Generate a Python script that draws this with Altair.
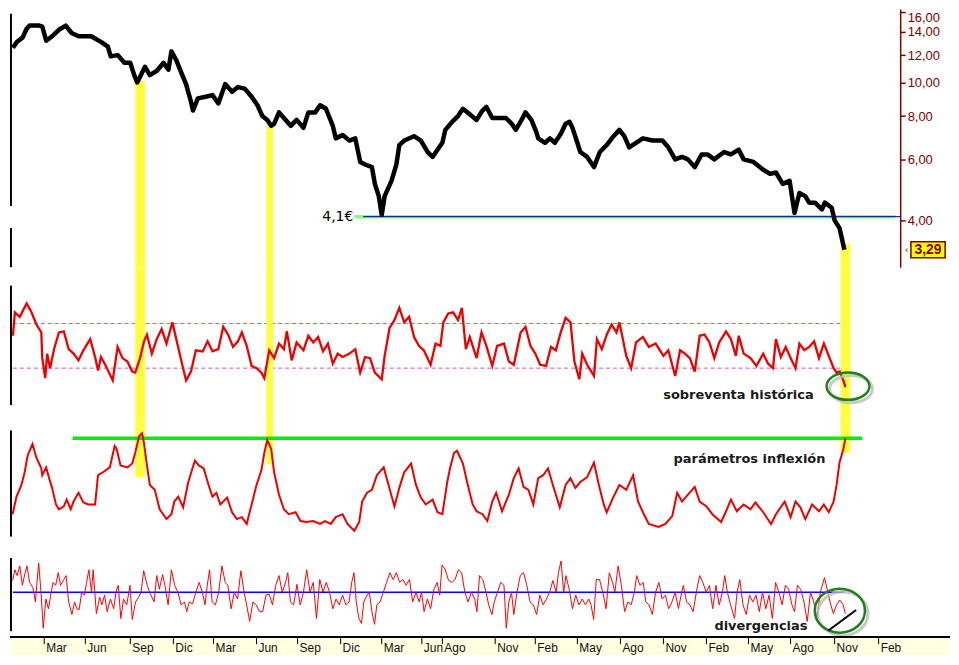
import altair as alt
import pandas as pd

# ---------------- data (x = weeks from the left edge of the chart) ----------------
price_week = [0.9, 2.1, 3.9, 5.1, 6.0, 9.0, 9.9, 11.1, 12.9, 15.0,
              17.1, 18.9, 21.0, 24.9, 26.1, 27.9, 30.0, 30.9, 33.0, 35.1,
              36.9, 38.1, 39.0, 39.9, 41.4, 42.9, 45.0, 47.1, 48.6, 49.5,
              51.0, 52.5, 54.0, 55.5, 56.1, 57.6, 60.0, 62.1, 63.9, 66.0,
              68.1, 69.9, 72.0, 74.1, 75.9, 77.4, 78.9, 80.1, 81.0, 82.5,
              84.0, 86.1, 87.9, 90.0, 91.5, 93.6, 95.1, 96.9, 99.0, 99.9,
              102.0, 104.1, 105.9, 107.4, 108.9, 111.0, 111.9, 113.1, 114.0, 114.9,
              117.0, 118.5, 119.4, 120.9, 123.9, 126.0, 128.1, 129.6, 131.1, 132.6,
              133.5, 135.6, 137.4, 138.9, 141.0, 143.1, 144.9, 146.1, 147.9, 150.0,
              152.1, 153.9, 155.1, 156.9, 158.1, 159.9, 161.4, 162.0, 164.1, 165.6,
              167.1, 168.9, 170.4, 171.6, 172.5, 174.0, 174.9, 177.0, 179.1, 180.9,
              183.0, 185.1, 186.9, 188.4, 189.9, 192.0, 194.1, 197.1, 200.1, 201.9,
              204.0, 206.1, 207.9, 210.0, 212.1, 213.9, 216.0, 219.0, 221.1, 223.5,
              225.0, 228.0, 231.0, 233.1, 234.9, 237.0, 239.1, 240.6, 242.1, 243.9,
              245.1, 246.9, 249.0, 249.9, 252.0, 252.9, 254.4, 255.9]
price_value = [12.6, 13.1, 13.5, 14.3, 14.6, 14.6, 14.5, 13.2, 13.6, 14.2,
               14.6, 13.9, 13.6, 13.6, 13.4, 13.1, 12.7, 11.9, 12.0, 11.4,
               11.4, 10.5, 10.0, 10.4, 11.1, 10.5, 10.8, 11.4, 10.9, 12.3,
               11.6, 10.7, 9.9, 8.8, 8.3, 9.0, 9.1, 9.2, 8.7, 9.9,
               9.4, 9.7, 9.6, 9.1, 8.6, 8.0, 7.8, 7.5, 7.6, 8.2,
               7.9, 7.5, 7.8, 7.4, 8.2, 8.2, 8.6, 8.4, 7.5, 6.9,
               7.05, 6.8, 6.9, 5.9, 5.8, 5.7, 5.1, 4.7, 4.15, 4.7,
               5.2, 5.8, 6.6, 6.8, 7.0, 6.8, 6.3, 6.1, 6.4, 6.7,
               7.3, 7.7, 8.0, 8.4, 8.1, 7.8, 8.3, 8.5, 7.9, 7.9,
               7.9, 7.6, 7.3, 7.8, 8.2, 7.8, 7.2, 6.9, 6.7, 6.9,
               6.7, 7.1, 7.6, 7.7, 7.4, 6.7, 6.3, 6.1, 5.7, 6.3,
               6.6, 7.0, 7.3, 7.0, 6.5, 6.7, 6.9, 6.8, 6.8, 6.5,
               6.0, 6.1, 6.0, 5.7, 6.2, 6.2, 6.0, 6.3, 6.2, 6.4,
               6.0, 5.9, 5.6, 5.45, 5.5, 5.1, 5.2, 4.2, 4.8, 4.7,
               4.5, 4.5, 4.3, 4.5, 4.35, 4.0, 3.8, 3.29]

sob_week = [0.9, 1.5, 3.0, 5.1, 6.6, 8.1, 9.6, 9.9, 10.8, 11.4,
            12.3, 13.5, 15.0, 16.5, 18.0, 19.5, 21.0, 22.5, 24.6, 26.1,
            27.0, 27.9, 29.4, 31.5, 33.0, 34.5, 36.0, 37.5, 38.4, 39.9,
            41.1, 42.0, 43.5, 45.0, 46.5, 48.0, 49.8, 51.0, 52.5, 54.0,
            55.5, 57.0, 59.1, 60.6, 62.1, 63.9, 65.4, 66.9, 68.4, 69.9,
            71.1, 72.6, 74.1, 75.6, 77.1, 78.0, 79.5, 81.0, 82.5, 84.0,
            84.9, 86.4, 87.9, 90.0, 91.5, 93.0, 94.5, 96.0, 97.5, 99.0,
            100.5, 102.0, 104.1, 105.9, 107.4, 108.9, 110.4, 111.9, 114.0, 114.9,
            116.4, 117.9, 119.4, 120.9, 122.4, 123.9, 125.4, 126.9, 129.0, 130.5,
            132.0, 132.9, 134.4, 135.9, 137.4, 138.6, 139.8, 141.0, 143.1, 144.6,
            146.1, 147.9, 149.4, 151.5, 153.0, 154.5, 156.6, 158.1, 159.6, 161.1,
            162.6, 164.4, 165.9, 167.4, 168.9, 170.4, 171.9, 173.1, 174.6, 175.5,
            177.0, 179.1, 180.0, 181.5, 183.0, 184.5, 186.0, 186.9, 189.0, 190.5,
            192.0, 194.1, 195.9, 198.0, 200.4, 201.9, 204.0, 205.5, 207.0, 208.5,
            210.0, 211.5, 213.0, 214.5, 216.0, 217.5, 219.6, 221.1, 222.6, 223.5,
            225.0, 227.1, 228.9, 231.0, 232.5, 234.0, 234.9, 236.4, 237.9, 239.4,
            240.9, 242.1, 243.6, 245.1, 246.6, 248.1, 249.6, 251.1, 252.6, 253.5,
            254.4, 255.6, 256.2]
sob_value = [59, 80, 76, 88, 80, 69, 62, 39, 21, 43,
             30, 47, 62, 63, 47, 43, 37, 46, 56, 40,
             28, 40, 32, 19, 49, 39, 36, 27, 26, 39,
             54, 60, 43, 56, 65, 52, 71, 56, 37, 19,
             27, 46, 45, 54, 45, 47, 67, 60, 49, 54,
             62, 50, 32, 30, 26, 21, 46, 39, 52, 47,
             63, 37, 53, 46, 59, 53, 58, 45, 52, 34,
             43, 40, 43, 47, 26, 40, 39, 26, 20, 41,
             66, 73, 84, 71, 76, 58, 50, 46, 33, 52,
             50, 71, 79, 80, 73, 84, 47, 58, 39, 62,
             50, 32, 50, 52, 36, 33, 62, 67, 50, 43,
             33, 32, 49, 46, 62, 75, 71, 36, 20, 43,
             33, 23, 56, 47, 60, 69, 62, 71, 41, 30,
             53, 58, 49, 52, 41, 46, 23, 46, 43, 39,
             27, 59, 60, 53, 39, 53, 63, 56, 41, 59,
             43, 39, 32, 43, 34, 30, 56, 40, 49, 39,
             30, 52, 46, 49, 54, 39, 52, 41, 30, 26,
             27, 19, 13]

inf_week = [0.8, 2.0, 3.5, 4.5, 5.4, 6.9, 8.1, 9.6, 9.9, 11.1,
            12.0, 12.9, 14.1, 15.0, 16.5, 17.4, 18.6, 19.5, 21.0, 22.5,
            24.0, 26.1, 27.0, 28.5, 30.6, 32.1, 32.7, 33.9, 36.0, 37.5,
            38.4, 39.6, 40.5, 41.1, 42.0, 42.9, 44.4, 45.9, 48.0, 49.5,
            50.4, 51.6, 53.1, 54.6, 55.5, 56.7, 57.9, 59.4, 60.9, 62.1,
            63.3, 64.5, 66.6, 68.1, 69.6, 71.1, 72.6, 74.1, 75.6, 77.1,
            78.0, 78.9, 80.1, 81.0, 82.5, 84.0, 85.5, 87.6, 89.1, 90.9,
            93.0, 95.1, 96.6, 98.4, 99.9, 102.0, 103.5, 105.6, 107.1, 108.0,
            109.5, 111.0, 112.5, 114.6, 116.1, 117.9, 119.4, 120.9, 123.0, 124.5,
            126.0, 127.5, 129.6, 131.1, 132.6, 134.1, 135.0, 136.2, 137.1, 138.9,
            140.4, 141.9, 143.1, 144.9, 146.4, 147.9, 149.1, 150.9, 153.0, 154.5,
            156.0, 157.5, 159.0, 160.5, 162.0, 163.5, 165.0, 166.5, 168.6, 170.4,
            171.9, 173.4, 174.9, 177.0, 179.1, 180.6, 182.1, 183.0, 185.1, 186.9,
            189.0, 191.1, 192.6, 194.4, 195.9, 198.9, 201.0, 203.1, 204.6, 206.1,
            207.9, 210.0, 211.5, 213.6, 215.4, 218.1, 219.6, 221.1, 222.9, 225.0,
            227.1, 228.6, 231.0, 233.4, 234.9, 237.6, 239.4, 240.9, 242.4, 243.9,
            246.0, 248.1, 249.6, 251.1, 252.6, 253.5, 254.4, 255.6, 256.2]
inf_value = [22, 40, 52, 65, 82, 94, 80, 69, 62, 70,
             59, 49, 32, 27, 30, 37, 27, 35, 44, 34,
             32, 32, 62, 65, 70, 92, 89, 72, 70, 74,
             85, 102, 105, 95, 72, 52, 47, 27, 17, 22,
             35, 40, 29, 54, 64, 77, 72, 69, 52, 40,
             44, 32, 39, 24, 17, 19, 12, 32, 52, 67,
             85, 98, 89, 65, 42, 27, 22, 24, 15, 14,
             15, 12, 15, 12, 19, 22, 12, 5, 14, 35,
             44, 47, 62, 70, 52, 30, 49, 65, 74, 52,
             39, 32, 37, 24, 22, 55, 70, 85, 87, 74,
             52, 32, 25, 22, 15, 35, 44, 25, 42, 59,
             69, 50, 47, 32, 59, 62, 69, 52, 29, 52,
             59, 49, 55, 60, 75, 52, 32, 24, 40, 52,
             47, 62, 35, 22, 12, 9, 12, 20, 44, 35,
             42, 50, 35, 30, 22, 14, 25, 37, 25, 32,
             27, 34, 24, 12, 22, 35, 19, 35, 29, 17,
             32, 25, 32, 24, 35, 52, 75, 89, 100]

div_week = [0.8, 1.5, 2.2, 3.0, 3.8, 4.5, 5.2, 6.0, 7.0, 7.8,
            8.2, 8.8, 9.5, 10.2, 11.0, 11.8, 12.5, 13.2, 14.0, 14.8,
            15.5, 16.5, 17.2, 18.0, 19.0, 19.8, 20.5, 21.2, 22.0, 22.8,
            23.5, 24.2, 25.0, 25.5, 26.5, 27.5, 28.2, 29.0, 29.8, 30.8,
            31.8, 32.5, 33.2, 34.0, 34.8, 35.8, 36.8, 37.5, 38.5, 39.5,
            40.2, 41.0, 42.0, 42.8, 43.5, 44.2, 45.0, 45.8, 46.8, 47.5,
            48.5, 49.5, 50.5, 51.5, 52.5, 53.5, 54.2, 55.0, 56.0, 57.0,
            58.0, 59.0, 59.8, 60.5, 61.2, 62.0, 63.0, 64.0, 65.0, 66.0,
            66.8, 67.8, 68.8, 69.8, 70.8, 71.8, 72.8, 73.5, 74.5, 75.5,
            76.5, 77.5, 78.5, 79.5, 80.5, 81.5, 82.5, 83.5, 84.5, 85.2,
            86.0, 87.0, 88.0, 89.0, 90.0, 91.0, 92.0, 93.0, 94.0, 95.0,
            96.0, 97.0, 98.0, 99.0, 100.0, 101.0, 102.0, 103.0, 104.0, 104.8,
            105.5, 106.2, 107.0, 107.8, 108.5, 109.5, 110.2, 111.0, 111.8, 112.5,
            113.5, 114.5, 115.5, 116.5, 117.5, 118.5, 119.5, 120.5, 121.5, 122.5,
            123.5, 124.5, 125.5, 126.2, 127.0, 128.0, 129.0, 130.0, 131.0, 131.8,
            132.5, 133.5, 134.5,
            135.5, 136.5, 137.5, 138.5, 139.5, 140.5, 141.5, 142.5, 143.2, 144.0,
            145.0, 146.0, 146.8, 147.8, 148.5, 149.5, 150.5, 151.5, 152.2, 153.0,
            153.8, 154.5, 155.5, 156.5, 157.5, 158.5, 159.5, 160.5, 161.5, 162.5,
            163.5, 164.5, 165.5, 166.5, 167.5, 168.2, 169.0, 169.8, 170.5, 171.5,
            172.5, 173.5, 174.5, 175.5, 176.5, 177.5, 178.2, 179.0, 179.8, 180.8,
            181.8, 182.8, 183.8, 184.8, 185.5, 186.5, 187.5, 188.5, 189.5, 190.5,
            191.5, 192.2, 193.2, 194.2, 195.0, 196.0, 197.0, 198.0, 199.0, 200.0,
            201.0, 202.0, 203.0, 204.0, 205.0, 206.0, 206.5, 207.5, 208.5, 209.5,
            210.5, 211.5, 212.5, 213.5, 214.5, 215.5, 216.5, 217.5, 218.5, 219.2,
            220.0, 221.0, 222.2, 223.0, 223.8, 224.8, 225.8, 226.8, 227.8, 228.8,
            229.8, 230.8, 231.8, 232.8, 233.8, 234.8, 235.8, 236.8, 237.8, 238.8,
            239.8, 240.6, 241.5, 242.5, 243.5, 244.5, 245.5, 246.5, 247.5, 248.5,
            249.8, 250.8, 251.5, 252.5, 253.5, 254.5, 255.5, 256.2]
div_value = [12, 23, 17, 27, 7, 18, 27, 10, 5, -10,
             7, 30, 0, -37, -7, -17, -3, 10, 7, 20,
             7, 13, 17, -10, -23, -10, -17, -18, 0, -3,
             10, 23, 0, 23, -22, -5, -13, -3, -20, -7,
             -17, 0, 7, -27, -7, -13, 7, -28, -10, -5,
             0, 22, 8, 0, -5, -10, 17, 3, 18, 7,
             -13, 23, 7, 0, -13, -10, -20, -10, -12, 0,
             10, 0, -13, 7, 23, -10, -13, 0, 27, 10,
             7, -17, 0, -7, 22, 0, -17, -30, -10, -13,
             -20, -20, -3, -2, -13, 7, 17, 0, 10, 20,
             -10, -13, 8, -13, 0, 23, 0, 10, -27, 13,
             0, 10, 0, -17, -7, -13, -3, -13, -10, 10,
             20, -10, -27, -32, -10, -3, 0, -20, -33, -13,
             -10, 0, 10, 20, 13, 20, 10, 13, 7, 13,
             -10, 0, -10, 0, -20, -7, -17, 3, 10, -3,
             28, 23, 12,
             10, 13, 23, 20, 0, -10, 0, -7, -20, 17,
             13, 0, -13, -23, -10, 0, 10, 7, -37, -10,
             0, -23, 0, 17, 20, 7, -10, -13, -23, -3,
             -13, -7, 0, 12, 0, 20, 32, 0, 17, 3,
             -17, -3, -13, -7, -13, -7, -13, -28, 13, 13,
             0, -17, 20, 10, 0, 27, 7, -20, -10, -13,
             0, 17, 7, 10, -10, -13, -23, 0, 10, -7,
             -3, -17, -10, 0, -17, 0, 7, -10, -13, -20,
             0, 17, 10, 0, 7, -17, 7, -13, 0, 17,
             0, -13, -27, 0, 13, -13, -23, -3, -10, -3,
             -20, 0, -17, -3, -27, 10, 0, -13, 7, 3,
             -13, -20, 7, 3, -10, -30, 0, -10, -27, 0,
             15, 0, -10, -22, -13, -8, -13, -22]

tick_week = [10.5, 23.1, 36.9, 50.1, 62.4, 75.6, 88.2, 101.4, 114.0, 126.3, 132.6,
             148.8, 161.1, 174.0, 187.2, 200.4, 213.6, 226.5, 239.4, 252.9, 266.4]
tick_label = ["Mar", "Jun", "Sep", "Dic", "Mar", "Jun", "Sep", "Dic", "Mar", "Jun", "Ago",
              "Nov", "Feb", "May", "Ago", "Nov", "Feb", "May", "Ago", "Nov", "Feb"]
price_ticks = [4, 6, 8, 10, 12, 14, 16]

zone_start = [38.4, 78.6, 254.7]
zone_end = [41.4, 80.7, 257.7]
zone_price_top = [10.1, 7.5, 3.43]
zone_inflex_bottom = [60, 73, 85]

# ---------------- layout & styles ----------------
W = 893
RIGHT = 50
XMAX = 273.0
XE = XMAX * (W + RIGHT) / W
HA, HB, HC, HD, HE = 259, 150, 132, 89, 18
RED = "#ee0000"
YEL = "#ffff40"
FONT = "DejaVu Sans"

PA = [2.93, 16.3]
PB = [-13.5, 120.4]
PC = [-13, 122]
PD = [-46, 45]

xs = alt.Scale(domain=[0, XMAX], nice=False, zero=False)
ya = alt.Scale(type="log", domain=PA, nice=False)
yb = alt.Scale(domain=PB, nice=False, zero=False)
yc = alt.Scale(domain=PC, nice=False, zero=False)
yd = alt.Scale(domain=PD, nice=False, zero=False)

AXIS_A = alt.Axis(
    orient="right", values=price_ticks,
    labelExpr="replace(format(datum.value, '.2f'), '.', ',')",
    domainColor="#800000", domainWidth=1.5, tickColor="#800000", tickSize=5,
    tickWidth=1.5, labelColor="#800000", labelFont="Liberation Sans",
    labelFontSize=13, labelPadding=2, grid=False, title=None,
    labelFlush=6, labelOverlap=False)


def X(f):
    return alt.X(f"{f}:Q", scale=xs, axis=None)


def Y(f, s):
    return alt.Y(f"{f}:Q", scale=s, axis=None)


def YA(f):
    return alt.Y(f"{f}:Q", scale=ya, axis=AXIS_A)


def ellipse(ratio):
    return f"M -1 0 A 1 {ratio} 0 1 1 1 0 A 1 {ratio} 0 1 1 -1 0 Z"


zones = pd.DataFrame({
    "w1": zone_start, "w2": zone_end,
    "ptop": zone_price_top, "pbot": [PA[0]] * 3,
    "btop": [PB[1]] * 3, "bbot": [PB[0]] * 3,
    "ctop": [PC[1]] * 3, "cbot": zone_inflex_bottom,
})

# ---------------- panel A : price ----------------
price = pd.DataFrame({"w": price_week, "p": price_value})
support = pd.DataFrame({"w1": [105.6], "w2": [271.5], "bw1": [108.3], "bw2": [XMAX],
                        "p": [4.1], "tw": [105.3], "t": ["4,1€"]})
last = pd.DataFrame({"w1": [276.3], "w2": [286.8], "p1": [3.12], "p2": [3.47],
                     "wm": [281.55], "p": [3.29], "t": ["3,29"], "wa": [275.0], "a": ["‹"]})
a_border = pd.DataFrame({"w": [0.3, 0.3], "p1": [15.8, 3.8], "p2": [4.4, PA[0]]})

a_line = alt.Chart(price).mark_line(color="black", strokeWidth=4.5, strokeJoin="round").encode(
    x=X("w"), y=YA("p"))
a_zone = alt.Chart(zones).mark_rect(color=YEL).encode(
    x=X("w1"), x2="w2:Q", y=YA("ptop"), y2="pbot:Q")
a_sup = alt.Chart(support).mark_rule(color="#80ff80", strokeWidth=3.5).encode(
    x=X("w1"), x2="w2:Q", y=YA("p"))
a_sup2 = alt.Chart(support).mark_rule(color="#000080", strokeWidth=1).encode(
    x=X("bw1"), x2="bw2:Q", y=YA("p"))
a_lbl = alt.Chart(support).mark_text(align="right", baseline="middle", font=FONT,
                                     fontSize=14, color="black").encode(
    x=X("tw"), y=YA("p"), text="t:N")
a_box = alt.Chart(last).mark_rect(fill="#ffff00", stroke="#800000", strokeWidth=1.5).encode(
    x=X("w1"), x2="w2:Q", y=YA("p1"), y2="p2:Q")
a_val = alt.Chart(last).mark_text(font="Liberation Sans", fontSize=14, fontWeight="bold",
                                  color="#800000", baseline="middle").encode(
    x=X("wm"), y=YA("p"), text="t:N")
a_arr = alt.Chart(last).mark_text(font="Liberation Sans", fontSize=10,
                                  color="#800000", baseline="middle").encode(
    x=X("wa"), y=YA("p"), text="a:N")
a_left = alt.Chart(a_border).mark_rule(color="black", strokeWidth=2).encode(
    x=X("w"), y=YA("p1"), y2="p2:Q")

panel_a = alt.layer(a_zone, a_sup, a_sup2, a_line, a_lbl, a_box, a_val, a_arr, a_left
                    ).properties(width=W, height=HA)

# ---------------- panel B : sobreventa ----------------
sob = pd.DataFrame({"w": sob_week, "v": sob_value})
b_levels = pd.DataFrame({"w1": [0.9, 0.9], "w2": [255.0, 255.0], "v": [70, 30]})
b_text = pd.DataFrame({"w": [223.4], "v": [5.7], "t": ["sobreventa histórica"]})
b_circ = pd.DataFrame({"w": [257.0], "v": [13.9]})
b_border = pd.DataFrame({"w": [0.3], "v1": [103.9], "v2": [-3.0]})

b_lev = alt.Chart(b_levels).mark_rule(color="#cc55cc", strokeDash=[4, 3], strokeWidth=1).encode(
    x=X("w1"), x2="w2:Q", y=Y("v", yb))
b_zone = alt.Chart(zones).mark_rect(color=YEL).encode(
    x=X("w1"), x2="w2:Q", y=Y("btop", yb), y2="bbot:Q")
b_line = alt.Chart(sob).mark_line(color=RED, strokeWidth=2.3).encode(x=X("w"), y=Y("v", yb))
b_txt = alt.Chart(b_text).mark_text(font=FONT, fontSize=13, fontWeight="bold", color="#1a1a1a",
                                    baseline="middle").encode(x=X("w"), y=Y("v", yb), text="t:N")
b_sh = alt.Chart(b_circ).mark_point(shape=ellipse(0.64), size=1849, filled=False, color="#bbbbbb",
                                    strokeWidth=3, opacity=0.8, xOffset=3, yOffset=3).encode(
    x=X("w"), y=Y("v", yb))
b_el = alt.Chart(b_circ).mark_point(shape=ellipse(0.64), size=1849, filled=False, color="#1f7f1f",
                                    strokeWidth=2.5, opacity=1).encode(x=X("w"), y=Y("v", yb))
b_left = alt.Chart(b_border).mark_rule(color="black", strokeWidth=2).encode(
    x=X("w"), y=Y("v1", yb), y2="v2:Q")

panel_b = alt.layer(b_lev, b_zone, b_line, b_txt, b_sh, b_el, b_left).properties(width=W, height=HB)

# ---------------- panel C : parámetros inflexión ----------------
inf = pd.DataFrame({"w": inf_week, "v": inf_value})
c_level = pd.DataFrame({"w1": [19.2], "w2": [261.3], "v": [100]})
c_text = pd.DataFrame({"w": [226.8], "v": [79], "t": ["parámetros inflexión"]})
c_border = pd.DataFrame({"w": [0.3], "v1": [108], "v2": [-1]})

c_zone = alt.Chart(zones).mark_rect(color=YEL).encode(
    x=X("w1"), x2="w2:Q", y=Y("ctop", yc), y2="cbot:Q")
c_lev = alt.Chart(c_level).mark_rule(color="#00ee00", strokeWidth=3.5).encode(
    x=X("w1"), x2="w2:Q", y=Y("v", yc))
c_line = alt.Chart(inf).mark_line(color=RED, strokeWidth=2).encode(x=X("w"), y=Y("v", yc))
c_txt = alt.Chart(c_text).mark_text(font=FONT, fontSize=13, fontWeight="bold", color="#1a1a1a",
                                    baseline="middle").encode(x=X("w"), y=Y("v", yc), text="t:N")
c_left = alt.Chart(c_border).mark_rule(color="black", strokeWidth=2).encode(
    x=X("w"), y=Y("v1", yc), y2="v2:Q")

panel_c = alt.layer(c_zone, c_lev, c_line, c_txt, c_left).properties(width=W, height=HC)

# ---------------- panel D : divergencias ----------------
div = pd.DataFrame({"w": div_week, "v": div_value})
d_level = pd.DataFrame({"w1": [0.9], "w2": [255.9], "v": [0]})
d_text = pd.DataFrame({"w": [230.3], "v": [-35], "t": ["divergencias"]})
d_circ = pd.DataFrame({"w": [254.5], "v": [-19]})
d_diag = pd.DataFrame({"w": [251.0, 259.5], "v": [-39.3, -18.3]})
d_border = pd.DataFrame({"w": [0.3], "v1": [35], "v2": [-40]})

d_lev = alt.Chart(d_level).mark_rule(color="#0000ff", strokeWidth=1.5).encode(
    x=X("w1"), x2="w2:Q", y=Y("v", yd))
d_line = alt.Chart(div).mark_line(color="#ff0000", strokeWidth=1).encode(x=X("w"), y=Y("v", yd))
d_txt = alt.Chart(d_text).mark_text(font=FONT, fontSize=13, fontWeight="bold", color="#1a1a1a",
                                    baseline="middle").encode(x=X("w"), y=Y("v", yd), text="t:N")
d_sh = alt.Chart(d_circ).mark_point(shape=ellipse(0.875), size=2540, filled=False, color="#bbbbbb",
                                    strokeWidth=3, opacity=0.8, xOffset=3, yOffset=3).encode(
    x=X("w"), y=Y("v", yd))
d_el = alt.Chart(d_circ).mark_point(shape=ellipse(0.875), size=2540, filled=False, color="#1f7f1f",
                                    strokeWidth=2.5, opacity=1).encode(x=X("w"), y=Y("v", yd))
d_dg = alt.Chart(d_diag).mark_line(color="black", strokeWidth=2).encode(x=X("w"), y=Y("v", yd))
d_left = alt.Chart(d_border).mark_rule(color="black", strokeWidth=2).encode(
    x=X("w"), y=Y("v1", yd), y2="v2:Q")

panel_d = alt.layer(d_lev, d_line, d_txt, d_sh, d_el, d_dg, d_left).properties(width=W, height=HD)

# ---------------- panel E : time axis strip ----------------
xe = alt.Scale(domain=[0, XE], nice=False, zero=False)
ye = alt.Scale(domain=[0, 1], nice=False, zero=False)
strip = pd.DataFrame({"w1": [0], "w2": [XE], "y1": [0], "y2": [1]})
ticks = pd.DataFrame({"w": tick_week, "t": tick_label, "y1": [1] * len(tick_week),
                      "y2": [0.6] * len(tick_week), "yt": [0.15] * len(tick_week)})

e_bg = alt.Chart(strip).mark_rect(color="#ffffe1").encode(
    x=alt.X("w1:Q", scale=xe, axis=None), x2="w2:Q",
    y=alt.Y("y1:Q", scale=ye, axis=None), y2="y2:Q")
e_top = alt.Chart(strip).mark_rule(color="black", strokeWidth=2).encode(
    x=alt.X("w1:Q", scale=xe, axis=None), x2="w2:Q", y=alt.Y("y2:Q", scale=ye, axis=None))
e_tick = alt.Chart(ticks).mark_rule(color="black", strokeWidth=1).encode(
    x=alt.X("w:Q", scale=xe, axis=None), y=alt.Y("y1:Q", scale=ye, axis=None), y2="y2:Q")
e_lab = alt.Chart(ticks).mark_text(align="left", baseline="alphabetic", dx=2,
                                   font="Liberation Sans", fontSize=12, color="#111111").encode(
    x=alt.X("w:Q", scale=xe, axis=None), y=alt.Y("yt:Q", scale=ye, axis=None), text="t:N")

panel_e = alt.layer(e_bg, e_top, e_tick, e_lab).properties(width=W + RIGHT, height=HE)

chart = alt.vconcat(panel_a, panel_b, panel_c, panel_d, panel_e, spacing=0, bounds="flush"
                    ).resolve_scale(x="independent", y="independent"
                    ).properties(padding=0, background="white"
                    ).configure_view(stroke=None)

chart.save("out.html", embed_options={"renderer": "svg", "actions": False})
